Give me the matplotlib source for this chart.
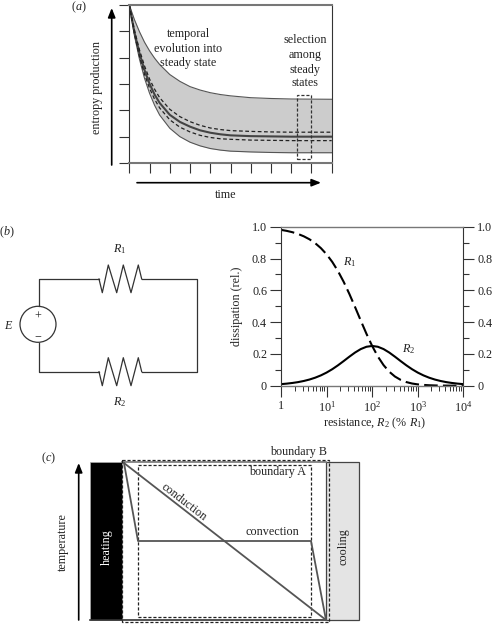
#!/usr/bin/env python3
"""Three panel figure: entropy production, circuit dissipation, heat transport."""

import matplotlib
matplotlib.use('Agg')
import matplotlib.pyplot as plt
from matplotlib.patches import Circle, Rectangle
from matplotlib.ticker import LogLocator, NullFormatter

plt.rcParams['font.family'] = ['Liberation Serif', 'DejaVu Serif']
plt.rcParams['mathtext.fontset'] = 'custom'
plt.rcParams['mathtext.rm'] = 'Liberation Serif'
plt.rcParams['mathtext.it'] = 'Liberation Serif:italic'

W, H = 493, 624
FS = 8.7
DARK = '#333333'
GREY = '#777777'

# panel a
time = [0, .25, .5, .75, 1, 1.25, 1.5, 2, 2.5, 3, 3.5, 4, 4.5, 5, 6, 7, 8, 10]
upper_env = [6, 5.45, 4.99, 4.59, 4.26, 3.98, 3.74, 3.36, 3.10, 2.90, 2.77, 2.67, 2.60, 2.55, 2.48, 2.45, 2.43, 2.42]
lower_env = [6, 4.85, 3.95, 3.22, 2.65, 2.19, 1.82, 1.32, 1.00, .79, .65, .55, .49, .45, .42, .40, .39, .39]
mean_curve = [6, 4.98, 4.17, 3.53, 3.01, 2.60, 2.28, 1.83, 1.56, 1.38, 1.24, 1.15, 1.09, 1.05, 1.02, 1.01, 1.0, 1.0]
dash_high = [6, 5.06, 4.30, 3.69, 3.19, 2.80, 2.48, 2.04, 1.76, 1.57, 1.43, 1.33, 1.27, 1.23, 1.20, 1.18, 1.17, 1.17]
dash_low = [6, 4.91, 4.05, 3.37, 2.84, 2.42, 2.09, 1.64, 1.36, 1.18, 1.05, .97, .92, .90, .87, .86, .85, .85]

# panel b
resistance = [1, 1.334, 1.778, 2.371, 3.162, 4.217, 5.623, 7.499, 10, 13.34, 17.78, 23.71, 31.62, 42.17, 56.23,
              74.99, 100, 133.4, 177.8, 237.1, 316.2, 421.7, 562.3, 749.9, 1000, 1334, 1778, 2371, 3162, 4217,
              5623, 7499, 10000]
diss_r1 = [.980, .9738, .9654, .9542, .9396, .9207, .8964, .8653, .8264, .7784, .7209, .6534, .5772, .4947, .4096,
           .3266, .25, .1836, .1296, .0880, .0577, .0367, .0228, .0138, .0083, .0049, .0028, .0016, .0009, .0005,
           .0003, .0002, .0001]
diss_r2 = [.0098, .0130, .0172, .0226, .0297, .0388, .0504, .0649, .0826, .1038, .1282, .1549, .1825, .2086, .2303,
           .2449, .25, .2449, .2304, .2086, .1825, .1549, .1282, .1038, .0826, .0649, .0504, .0388, .0297, .0226,
           .0172, .0130, .0098]
y_ticks = [0, .2, .4, .6, .8, 1.0]
y_labels = ['0', '0.2', '0.4', '0.6', '0.8', '1.0']
x_ticks = [1, 10, 100, 1000, 10000]
x_labels = ['1', '10$^{1}$', '10$^{2}$', '10$^{3}$', '10$^{4}$']

# schematic outlines, in picture pixels
zig_x = [99, 102.3, 108.3, 116.7, 123.3, 131, 138.3, 141.7]
zig_top = [279, 292.7, 265, 292.7, 265, 292.7, 265, 279]
zig_bot = [371.7, 385.7, 357.7, 385.7, 357.7, 385.7, 357.7, 371.7]
conv_x = [124, 138, 311, 326]
conv_y = [463, 541, 541, 620]
cond_x = [124, 326]
cond_y = [463, 620]


def px_axes(fig, x0, y0, x1, y1):
    """Axes placed by picture pixels (y measured from the top)"""
    return fig.add_axes([x0 / W, 1 - y1 / H, (x1 - x0) / W, (y1 - y0) / H])


fig = plt.figure(figsize=(W / 100, H / 100), dpi=100)

# ---- pixel overlay for schematics and labels
ov = fig.add_axes([0, 0, 1, 1], zorder=5)
ov.set_xlim(0, W)
ov.set_ylim(H, 0)
ov.axis('off')
ov.patch.set_alpha(0)


def label(x, y, s, **kw):
    kw.setdefault('fontsize', FS)
    kw.setdefault('color', '#222222')
    ov.text(x, y, s, ha='center', va='center', **kw)


def arrow(x0, y0, x1, y1):
    ov.annotate('', xy=(x1, y1), xytext=(x0, y0),
                arrowprops=dict(arrowstyle='-|>,head_width=0.22,head_length=0.55',
                                color='black', lw=1.2, shrinkA=0, shrinkB=0))


# ---- panel a
ax = px_axes(fig, 129.3, 5, 331.7, 163)
ax.fill_between(time, lower_env, upper_env, color='#cccccc', lw=0)
ax.plot(time, upper_env, color='#555555', lw=0.8)
ax.plot(time, lower_env, color='#555555', lw=0.8)
ax.plot(time, mean_curve, color='#444444', lw=1.5)
ax.plot(time, dash_high, color='#222222', lw=0.9, dashes=(3, 2))
ax.plot(time, dash_low, color='#222222', lw=0.9, dashes=(3, 2))
ax.set_xlim(0, 10)
ax.set_ylim(0, 6)
ax.set_xticks(range(11))
ax.set_yticks(range(7))
ax.set_xticklabels([])
ax.set_yticklabels([])
ax.tick_params(length=7, width=0.8, color=DARK)
ax.spines['top'].set(color=GREY, lw=1.5)
ax.spines['bottom'].set(color=GREY, lw=1.5)
ax.spines['left'].set(color=DARK, lw=0.8)
ax.spines['right'].set(color=DARK, lw=0.8)
ax.add_patch(Rectangle((8.27, 0.17), 0.72, 2.43, fill=False, ec='#333333', lw=0.9,
                       ls=(0, (2.5, 1.5)), clip_on=False, zorder=4))

arrow(111.7, 165, 111.7, 8)
arrow(137, 182.7, 321, 182.7)
label(79, 7, '($\\mathit{a}$)')
label(96.7, 87, 'entropy production', rotation=90)
label(225.7, 195, 'time')
for yy, s in zip([34, 48.7, 63], ['temporal', 'evolution into', 'steady state']):
    label(188, yy, s)
for yy, s in zip([40, 55, 69.7, 83], ['selection', 'among', 'steady', 'states']):
    label(305, yy, s)

# ---- panel b, circuit
wire = dict(color=DARK, lw=0.9)
ov.plot([38.7, 38.7, 99], [306, 279, 279], **wire)
ov.plot([141.7, 196.7, 196.7, 141.7], [279, 279, 371.7, 371.7], **wire)
ov.plot([38.7, 38.7, 99], [342.5, 371.7, 371.7], **wire)
ov.plot(zig_x, zig_top, **wire)
ov.plot(zig_x, zig_bot, **wire)
ov.add_patch(Circle((38, 324.3), 18, fill=False, ec=DARK, lw=0.9))
label(7, 232, '($\\mathit{b}$)')
label(120, 249, '$\\mathit{R}_{1}$')
label(120, 402, '$\\mathit{R}_{2}$')
label(9, 326, '$\\mathit{E}$')
label(38, 317, '+')
label(38, 336, '\u2212')

# ---- panel b, dissipation
bx = px_axes(fig, 281, 226.7, 463.3, 385.7)
bx.plot(resistance, diss_r1, color='black', lw=1.5, dashes=(6.5, 2.5))
bx.plot(resistance, diss_r2, color='black', lw=1.5)
bx.set_xscale('log')
bx.set_xlim(1, 10000)
bx.set_ylim(0, 1)
bx.set_xticks(x_ticks, x_labels, fontsize=FS)
bx.xaxis.set_minor_locator(LogLocator(base=10, subs=range(2, 10), numticks=20))
bx.xaxis.set_minor_formatter(NullFormatter())
bx.set_yticks(y_ticks, y_labels, fontsize=FS)
bx.set_yticks([.1, .3, .5, .7, .9], minor=True)
bx.tick_params(axis='y', which='major', length=8, width=0.8, color=DARK, labelcolor='#222222', pad=2,
               left=True, right=True, labelleft=True, labelright=True)
bx.tick_params(axis='y', which='minor', length=4, width=0.8, color=DARK, left=True, right=True)
bx.tick_params(axis='x', which='major', length=8, width=0.8, color=DARK, labelcolor='#222222', pad=2)
bx.tick_params(axis='x', which='minor', length=3.5, width=0.7, color=DARK)
for side in ['top', 'bottom']:
    bx.spines[side].set(color=GREY, lw=1.0)
for side in ['left', 'right']:
    bx.spines[side].set(color=DARK, lw=0.8)
label(236.7, 306.7, 'dissipation (rel.)', rotation=90)
label(375, 423.5, 'resistance, $\\mathit{R}_{2}$ (% $\\mathit{R}_{1}$)')
label(350, 262, '$\\mathit{R}_{1}$')
label(409, 349, '$\\mathit{R}_{2}$')

# ---- panel c
ov.add_patch(Rectangle((90, 462), 32, 158, fc='black', ec='#aaaaaa', lw=0.5, zorder=1))
ov.add_patch(Rectangle((325.5, 462), 33.5, 158, fc='#e4e4e4', ec='#444444', lw=0.9, zorder=1))
ov.plot([122, 325.5], [462, 462], color=GREY, lw=1.2, zorder=1)
ov.plot([90, 325.5], [620, 620], color=DARK, lw=1.2, zorder=1)
ov.add_patch(Rectangle((122, 459.5), 206.5, 162.5, fill=False, ec='#222222', lw=0.9,
                       ls=(0, (2.5, 1.5)), zorder=3))
ov.add_patch(Rectangle((138, 464.5), 173, 152.5, fill=False, ec='#222222', lw=0.9,
                       ls=(0, (2.5, 1.5)), zorder=3))
ov.plot(conv_x, conv_y, color='#555555', lw=1.3, zorder=4)
ov.plot(cond_x, cond_y, color='#555555', lw=1.3, zorder=4)
arrow(78.7, 620, 78.7, 463)
label(48, 458, '($\\mathit{c}$)')
label(63, 542, 'temperature', rotation=90)
label(107, 547, 'heating', rotation=90, color='white')
label(344, 547, 'cooling', rotation=90)
label(184, 502, 'conduction', rotation=-37.7, rotation_mode='anchor')
label(272.7, 531.7, 'convection')
label(277.7, 472, 'boundary A')
label(299, 451.5, 'boundary B')

plt.savefig('out.png', dpi=100)
plt.close()
